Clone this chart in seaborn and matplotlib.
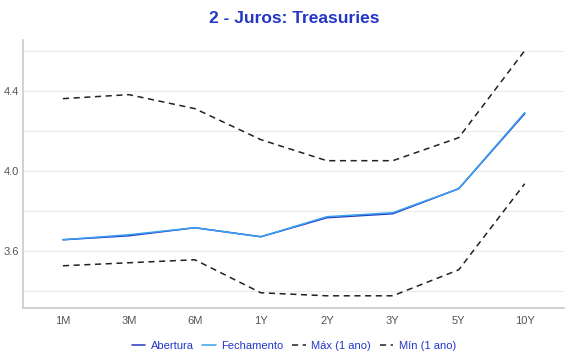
import pandas as pd
import seaborn as sns
import matplotlib.pyplot as plt

prazos = ['1M', '3M', '6M', '1Y', '2Y', '3Y', '5Y', '10Y']
abertura = [3.655, 3.675, 3.715, 3.67, 3.765, 3.785, 3.91, 4.285]
fechamento = [3.655, 3.68, 3.715, 3.67, 3.77, 3.79, 3.91, 4.29]
maximo = [4.36, 4.38, 4.31, 4.155, 4.05, 4.05, 4.165, 4.60]
minimo = [3.525, 3.54, 3.555, 3.39, 3.375, 3.375, 3.505, 3.935]

sns.set_theme(style='white')
plt.rcParams['font.family'] = ['Liberation Sans', 'DejaVu Sans']

df = pd.DataFrame({
    'prazo': prazos * 4,
    'taxa': abertura + fechamento + maximo + minimo,
    'serie': (['Abertura'] * 8 + ['Fechamento'] * 8
              + ['Máx (1 ano)'] * 8 + ['Mín (1 ano)'] * 8),
})

cores = {'Abertura': '#2336c8', 'Fechamento': '#3aa0ee',
         'Máx (1 ano)': '#222222', 'Mín (1 ano)': '#222222'}
estilos = {'Abertura': '', 'Fechamento': '',
           'Máx (1 ano)': (4, 3), 'Mín (1 ano)': (4, 3)}

fig, ax = plt.subplots(figsize=(5.7, 3.6), dpi=100)
sns.lineplot(data=df, x='prazo', y='taxa', hue='serie', style='serie',
             palette=cores, dashes=estilos, linewidth=1.1, sort=False, ax=ax)

ax.set_xlim(-0.6, 7.6)
ax.set_ylim(3.315, 4.655)
ax.set_yticks([3.6, 4.0, 4.4])
ax.set_yticks([3.4, 3.8, 4.2, 4.6], minor=True)
ax.yaxis.grid(True, which='both', color='#ebebeb', linewidth=0.8)
ax.set_axisbelow(True)
ax.set_xlabel('')
ax.set_ylabel('')
ax.tick_params(axis='both', labelsize=8, colors='#555555', length=0)
ax.tick_params(axis='x', pad=6)
ax.tick_params(axis='y', pad=3)
ax.tick_params(axis='y', which='minor', length=0)
for lado in ['top', 'right']:
    ax.spines[lado].set_visible(False)
for lado in ['left', 'bottom']:
    ax.spines[lado].set_color('#cccccc')

ax.set_title('2 - Juros: Treasuries', color='#2336c8', fontsize=12.5,
             fontweight='bold', pad=12)

leg = ax.legend(loc='upper center', bbox_to_anchor=(0.5, -0.085), ncol=4,
                frameon=False, fontsize=8, handlelength=1.2,
                handletextpad=0.5, columnspacing=0.8)
for txt in leg.get_texts():
    txt.set_color('#2336c8')

plt.subplots_adjust(left=0.041, right=0.99, top=0.89, bottom=0.145)
plt.savefig('out.png')
